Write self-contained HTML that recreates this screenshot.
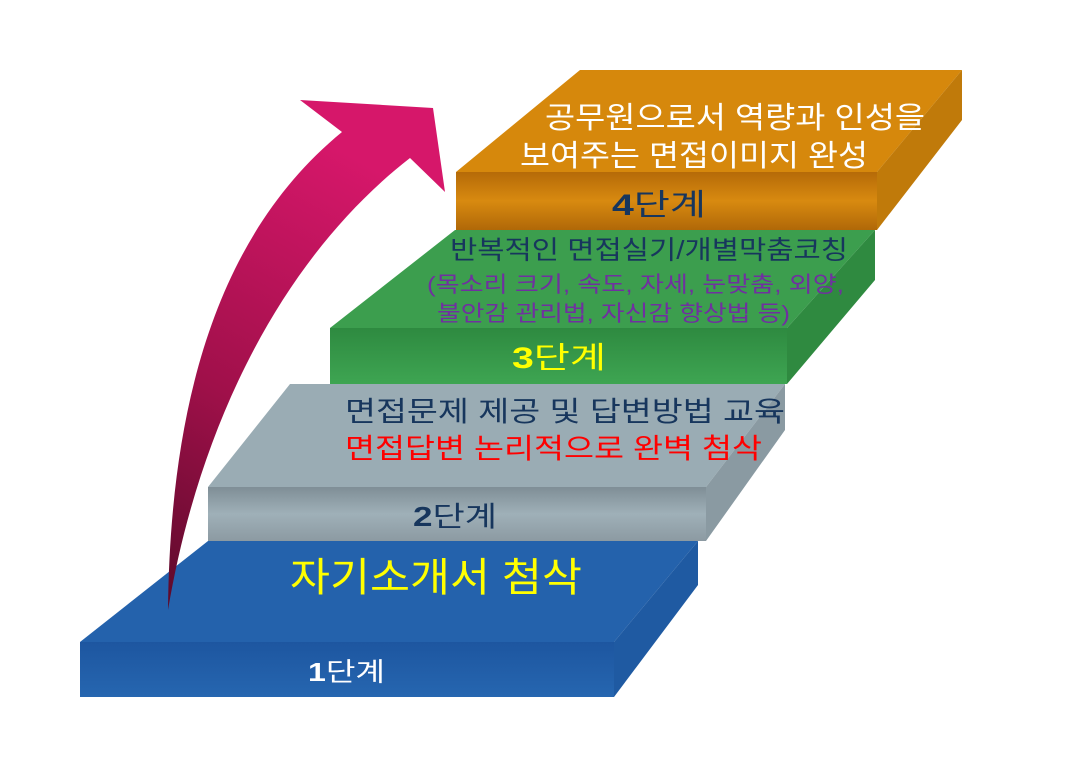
<!DOCTYPE html>
<html><head><meta charset="utf-8"><style>
html,body{margin:0;padding:0;background:#fff;width:1076px;height:777px;overflow:hidden}
svg text{font-family:"Liberation Sans","Noto Sans CJK KR","NanumGothic",sans-serif}
</style></head><body>
<svg width="1076" height="777" viewBox="0 0 1076 777" xmlns="http://www.w3.org/2000/svg">
<defs>
<linearGradient id="arr" x1="0" y1="1" x2="0.3" y2="0"><stop offset="0" stop-color="#5c0a2a"/><stop offset="0.45" stop-color="#a0104a"/><stop offset="1" stop-color="#d6176a"/></linearGradient>
<linearGradient id="f1" x1="0" y1="0" x2="0" y2="1"><stop offset="0" stop-color="#1d56a0"/><stop offset="1" stop-color="#2666b0"/></linearGradient>
<linearGradient id="f2" x1="0" y1="0" x2="0" y2="1"><stop offset="0" stop-color="#7f8e96"/><stop offset="0.5" stop-color="#9fb0b8"/><stop offset="1" stop-color="#8c9aa2"/></linearGradient>
<linearGradient id="f3" x1="0" y1="0" x2="0" y2="1"><stop offset="0" stop-color="#2e8a40"/><stop offset="1" stop-color="#3ea552"/></linearGradient>
<linearGradient id="f4" x1="0" y1="0" x2="0" y2="1"><stop offset="0" stop-color="#b56a08"/><stop offset="0.5" stop-color="#d88a10"/><stop offset="1" stop-color="#b06808"/></linearGradient>
</defs>
<polygon points="456,172 877,172 962,70 580,70" fill="#d6880c"/>
<polygon points="877,172 962,70 962,120 877,230" fill="#c07a0a"/>
<rect x="456" y="172" width="421" height="58" fill="url(#f4)"/>
<polygon points="330,328 787,328 875,230 455,230" fill="#3c9e4e"/>
<polygon points="787,328 875,230 875,280 787,384" fill="#2f8a40"/>
<rect x="330" y="328" width="457" height="56" fill="url(#f3)"/>
<polygon points="208,487 706,487 785,384 290,384" fill="#9aacb4"/>
<polygon points="706,487 785,384 785,430 706,541" fill="#8a9aa2"/>
<rect x="208" y="487" width="498" height="54" fill="url(#f2)"/>
<polygon points="80,642 614,642 698,541 208,541" fill="#2462ac"/>
<polygon points="614,642 698,541 698,585 614,697" fill="#1f5aa2"/>
<rect x="80" y="642" width="534" height="55" fill="url(#f1)"/>
<path d="M168,610 C170,420 210,240 342,132 L300,100 L433,108 L445,192 L410,158 C285,255 200,420 168,610 Z" fill="url(#arr)"/>
<text x="545" y="128" font-size="30" fill="#fff" textLength="380" lengthAdjust="spacingAndGlyphs">공무원으로서 역량과 인성을</text>
<text x="520" y="166" font-size="30" fill="#fff" textLength="348" lengthAdjust="spacingAndGlyphs">보여주는 면접이미지 완성</text>
<text x="612" y="215" font-size="30" fill="#17365d" textLength="94" lengthAdjust="spacingAndGlyphs"><tspan font-weight="bold">4</tspan>단계</text>
<text x="450" y="259" font-size="26" fill="#17365d" textLength="398" lengthAdjust="spacingAndGlyphs">반복적인 면접실기/개별막춤코칭</text>
<text x="427" y="292" font-size="22" fill="#7030a0" textLength="417" lengthAdjust="spacingAndGlyphs">(목소리 크기, 속도, 자세, 눈맞춤, 외양,</text>
<text x="437" y="321" font-size="22" fill="#7030a0" textLength="353" lengthAdjust="spacingAndGlyphs">불안감 관리법, 자신감 향상법 등)</text>
<text x="512" y="368" font-size="30" fill="#ffff00" textLength="94" lengthAdjust="spacingAndGlyphs"><tspan font-weight="bold">3</tspan>단계</text>
<text x="345" y="421" font-size="28" fill="#17365d" textLength="440" lengthAdjust="spacingAndGlyphs">면접문제 제공 및 답변방법 교육</text>
<text x="345" y="458" font-size="28" fill="#ff0000" textLength="417" lengthAdjust="spacingAndGlyphs">면접답변 논리적으로 완벽 첨삭</text>
<text x="413" y="526" font-size="28" fill="#17365d" textLength="84" lengthAdjust="spacingAndGlyphs"><tspan font-weight="bold">2</tspan>단계</text>
<text x="290" y="591" font-size="40" fill="#ffff00" textLength="292" lengthAdjust="spacingAndGlyphs">자기소개서 첨삭</text>
<text x="308" y="681" font-size="26" fill="#fff" textLength="77" lengthAdjust="spacingAndGlyphs"><tspan font-weight="bold">1</tspan>단계</text>
</svg>
</body></html>
